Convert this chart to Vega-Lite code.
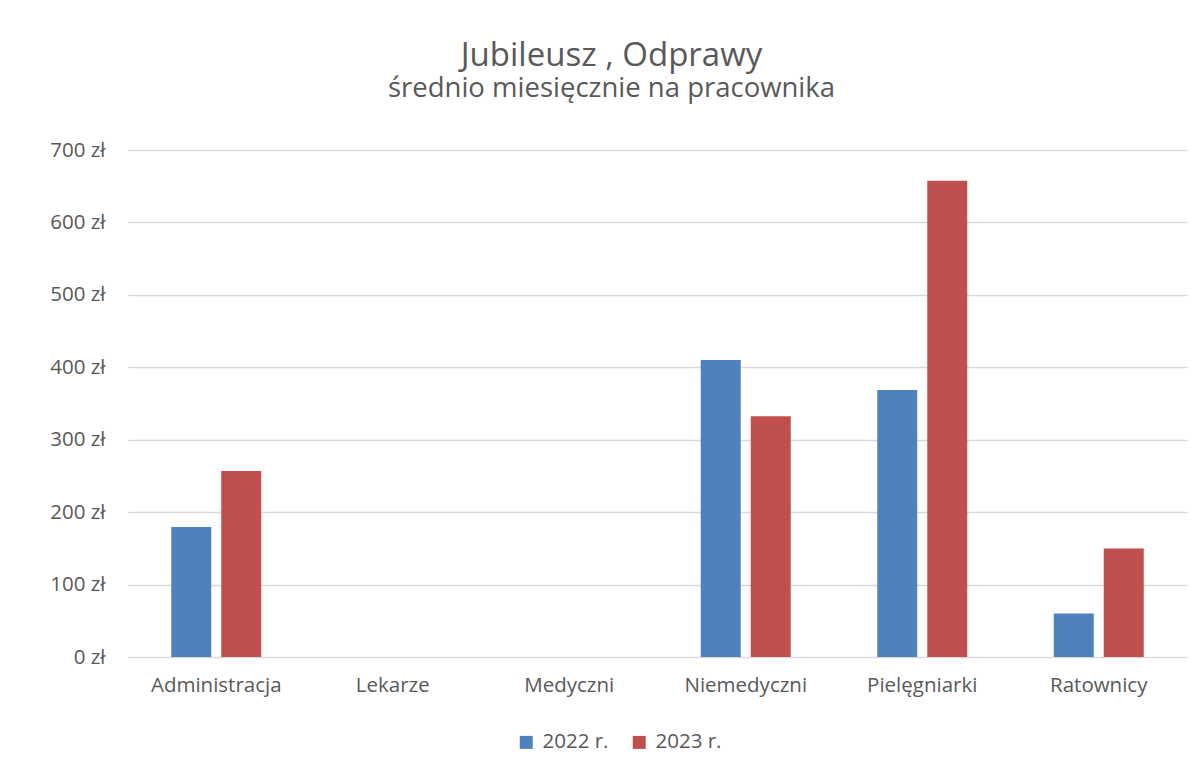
{
  "$schema": "https://vega.github.io/schema/vega-lite/v6.json",
  "width": 1059,
  "height": 507,
  "autosize": {"type": "none"},
  "padding": {"left": 128, "top": 150, "right": 15, "bottom": 117},
  "background": "white",
  "title": {
    "text": "Jubileusz , Odprawy",
    "subtitle": "średnio miesięcznie na pracownika",
    "anchor": "middle",
    "frame": "group",
    "dx": -46,
    "offset": 38,
    "font": "Open Sans",
    "fontSize": 33,
    "fontWeight": "normal",
    "color": "#595959",
    "subtitleFont": "Open Sans",
    "subtitleFontSize": 27.5,
    "subtitleColor": "#595959",
    "subtitlePadding": 2
  },
  "data": {
    "values": [
      {"kategoria": "Administracja", "rok": "2022 r.", "wartosc": 179.5},
      {"kategoria": "Administracja", "rok": "2023 r.", "wartosc": 256.9},
      {"kategoria": "Lekarze", "rok": "2022 r.", "wartosc": 0},
      {"kategoria": "Lekarze", "rok": "2023 r.", "wartosc": 0},
      {"kategoria": "Medyczni", "rok": "2022 r.", "wartosc": 0},
      {"kategoria": "Medyczni", "rok": "2023 r.", "wartosc": 0},
      {"kategoria": "Niemedyczni", "rok": "2022 r.", "wartosc": 410.2},
      {"kategoria": "Niemedyczni", "rok": "2023 r.", "wartosc": 332.4},
      {"kategoria": "Pielęgniarki", "rok": "2022 r.", "wartosc": 368.7},
      {"kategoria": "Pielęgniarki", "rok": "2023 r.", "wartosc": 657.4},
      {"kategoria": "Ratownicy", "rok": "2022 r.", "wartosc": 59.9},
      {"kategoria": "Ratownicy", "rok": "2023 r.", "wartosc": 149.7}
    ]
  },
  "mark": {"type": "bar"},
  "encoding": {
    "x": {
      "field": "kategoria",
      "type": "nominal",
      "sort": null,
      "scale": {"paddingInner": 0.49, "paddingOuter": 0.245},
      "axis": {
        "title": null,
        "labelAngle": 0,
        "labelFont": "Open Sans",
        "labelFontSize": 20.5,
        "labelColor": "#595959",
        "labelPadding": 18,
        "ticks": false,
        "domain": false,
        "grid": false
      }
    },
    "xOffset": {
      "field": "rok",
      "type": "nominal",
      "scale": {"paddingInner": 0.2, "paddingOuter": 0}
    },
    "y": {
      "field": "wartosc",
      "type": "quantitative",
      "scale": {"domain": [0, 700], "nice": false},
      "axis": {
        "title": null,
        "values": [0, 100, 200, 300, 400, 500, 600, 700],
        "labelExpr": "datum.value + ' zł'",
        "labelFont": "Open Sans",
        "labelFontSize": 20.5,
        "labelColor": "#595959",
        "labelPadding": 23,
        "ticks": false,
        "domain": false,
        "grid": true,
        "gridColor": "#d9d9d9",
        "gridWidth": 1.3
      }
    },
    "color": {
      "field": "rok",
      "type": "nominal",
      "scale": {"range": ["#4f81bd", "#c0504d"]},
      "legend": {
        "title": null,
        "orient": "none",
        "direction": "horizontal",
        "legendX": 388,
        "legendY": 582,
        "symbolType": "square",
        "symbolSize": 169,
        "symbolStrokeWidth": 0,
        "labelFont": "Open Sans",
        "labelFontSize": 20.5,
        "labelColor": "#595959",
        "labelOffset": 6,
        "columnPadding": 20
      }
    }
  },
  "config": {"view": {"stroke": null}}
}
